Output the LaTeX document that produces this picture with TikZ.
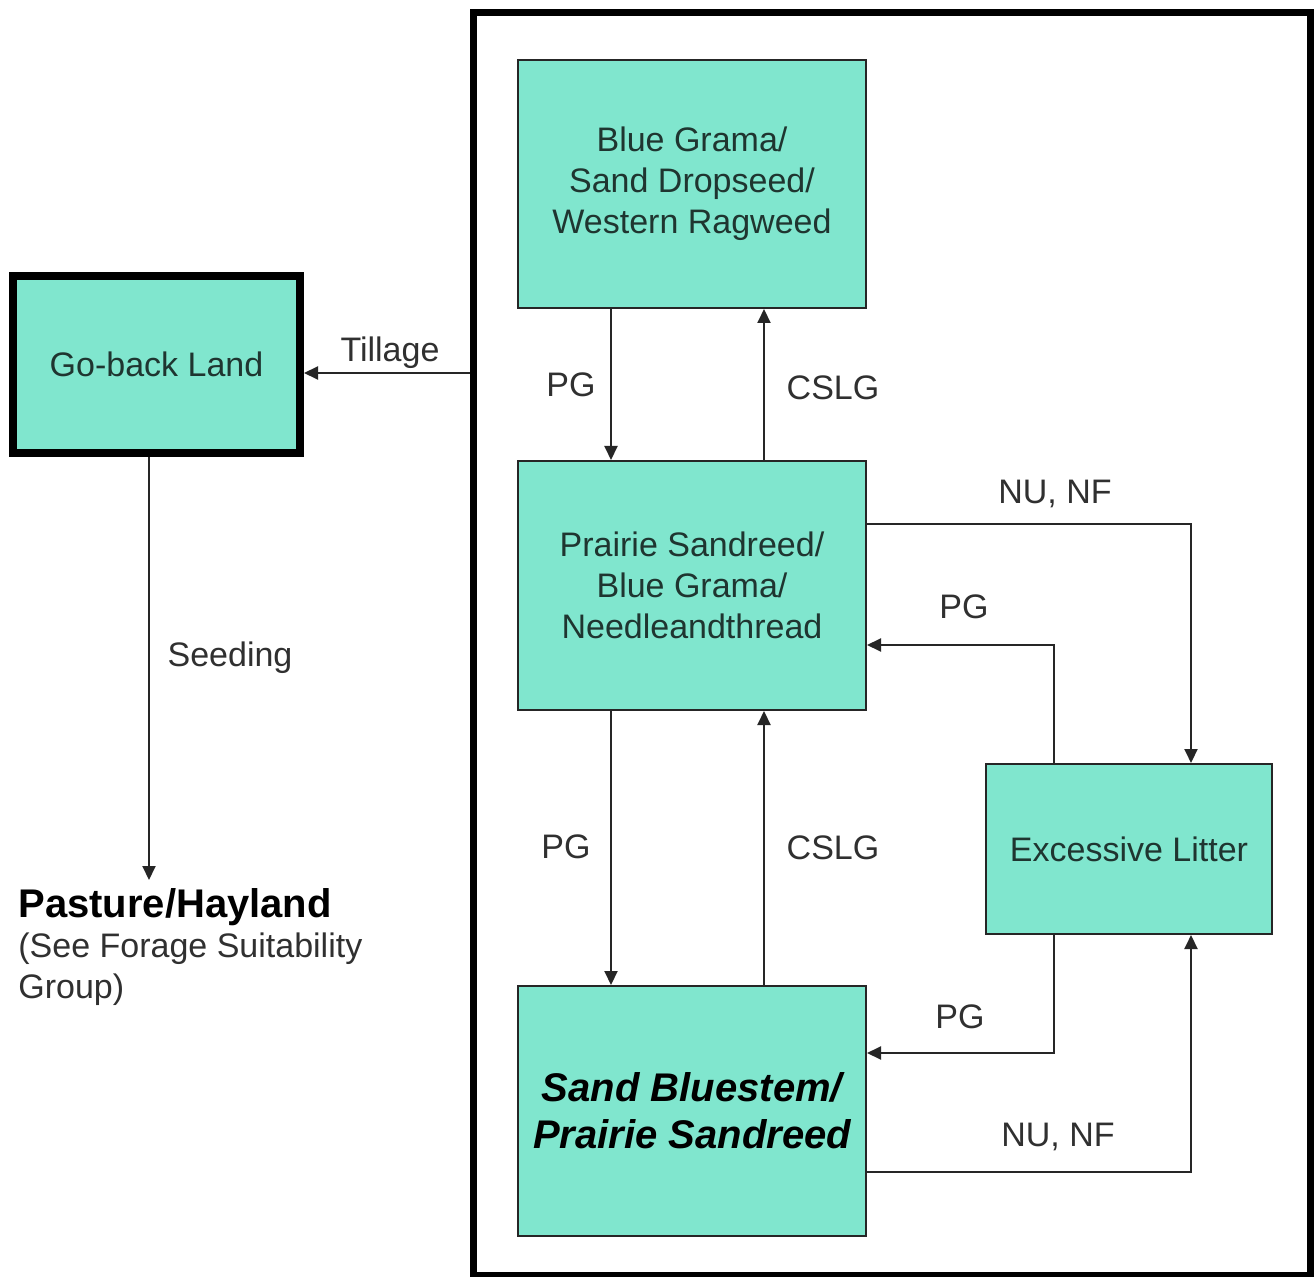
\documentclass[tikz,border=0pt]{standalone}
\usepackage{fontspec}
\setmainfont{Liberation Sans}
\usetikzlibrary{arrows.meta}
\definecolor{boxfill}{HTML}{80E6CE}
\definecolor{boxtext}{HTML}{1F3530}
\definecolor{labeltext}{HTML}{303030}
\begin{document}
\begin{tikzpicture}[x=0.5pt,y=-0.5pt]
\tikzset{
  box/.style={draw=black!85, line width=1pt, fill=boxfill, text=boxtext, align=center,
    font=\fontsize{17}{20.5}\selectfont, inner sep=0pt},
  thickbox/.style={box, draw=black, line width=4pt},
  lbl/.style={text=labeltext, font=\fontsize{17}{20.5}\selectfont, inner sep=0pt},
  arr/.style={draw=black!85, line width=1pt, -{Triangle[length=7pt,width=6.5pt]}},
}
\useasboundingbox (0,0) rectangle (1316,1277);
\fill[white] (0,0) rectangle (1316,1277);

% outer frame
\node[draw=black, line width=3.5pt, minimum width=418.25pt, minimum height=631pt, inner sep=0pt] (frame) at (891.75,644) {};

% boxes
\node[box, minimum width=174pt, minimum height=124pt] (b1) at (692,184)
  {Blue Grama/\\Sand Dropseed/\\Western Ragweed};
\node[box, minimum width=174pt, minimum height=124.5pt] (b2) at (692,585.5)
  {Prairie Sandreed/\\Blue Grama/\\Needleandthread};
\node[box, minimum width=174pt, minimum height=125pt, text=black,
  font=\fontsize{20}{23.5}\selectfont\bfseries\itshape] (b3) at (692,1111)
  {Sand Bluestem/\\Prairie Sandreed};
\node[box, minimum width=143pt, minimum height=85pt] (b4) at (1129,849) {Excessive Litter};
\node[thickbox, minimum width=143.5pt, minimum height=88.5pt] (gb) at (156.5,364.5) {Go-back Land};

% pasture text
\node[anchor=base west, inner sep=0pt, font=\fontsize{20}{24}\selectfont\bfseries] (past) at (18,917) {Pasture/Hayland};
\node[anchor=base west, lbl] (past2) at (18,957) {(See Forage Suitability};
\node[anchor=base west, lbl] (past3) at (18,998) {Group)};

% helper coordinates
\coordinate (ty) at (0,373);
\coordinate (se) at (149,880);
\coordinate (xl) at (611,0);
\coordinate (xr) at (764,0);
\coordinate (c1) at (1191,524);
\coordinate (c2) at (1054,645);
\coordinate (c3) at (1054,1053);
\coordinate (c4) at (1191,1172);

% connectors
\draw[arr] (frame.west |- ty) -- (gb.east |- ty);
\draw[arr] (gb.south -| se) -- (se);
\draw[arr] (b1.south -| xl) -- (b2.north -| xl);
\draw[arr] (b2.north -| xr) -- (b1.south -| xr);
\draw[arr] (b2.south -| xl) -- (b3.north -| xl);
\draw[arr] (b3.north -| xr) -- (b2.south -| xr);
\draw[arr] (b2.east |- c1) -| (b4.north -| c1);
\draw[arr] (b4.north -| c2) |- (b2.east |- c2);
\draw[arr] (b4.south -| c3) |- (b3.east |- c3);
\draw[arr] (b3.east |- c4) -| (b4.south -| c4);

% labels
\node[lbl] (lt) at (390,353) {Tillage};
\node[lbl] (ls) at (230,658) {Seeding};
\node[lbl] (l1) at (571,385) {PG};
\node[lbl] (l2) at (833,388) {CSLG};
\node[lbl] (l3) at (566,847) {PG};
\node[lbl] (l4) at (833,848) {CSLG};
\node[lbl] (l5) at (1055,494) {NU, NF};
\node[lbl] (l6) at (964,607) {PG};
\node[lbl] (l7) at (960,1017) {PG};
\node[lbl] (l8) at (1058,1137) {NU, NF};
\end{tikzpicture}
\end{document}
